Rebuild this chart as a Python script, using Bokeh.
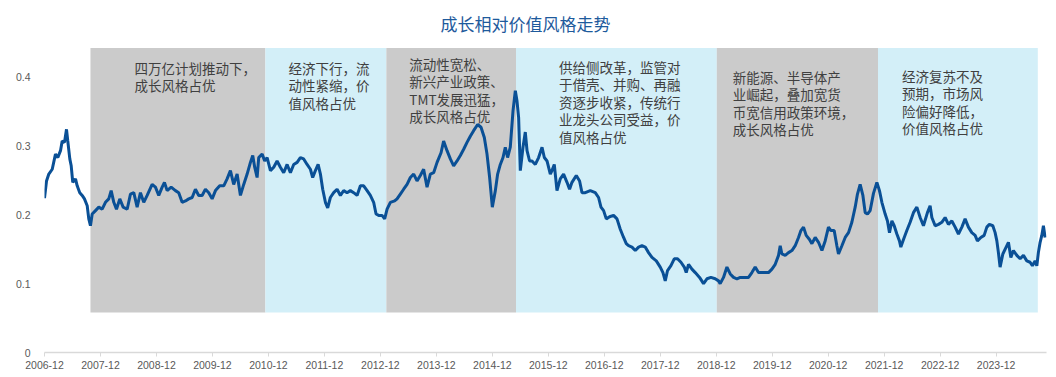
from bokeh.plotting import figure
from bokeh.models import FixedTicker, Range1d
from bokeh.core.properties import value
from bokeh.embed import file_html
from bokeh.resources import INLINE

# ---------------- data ----------------
# time in years since the "2006-12" tick
t = [0.000, 0.036, 0.077, 0.138, 0.196, 0.238, 0.286, 0.316, 0.357, 0.393, 0.416, 0.452, 0.477, 0.505,
     0.554, 0.584, 0.630, 0.673, 0.714, 0.763, 0.791, 0.821, 0.852, 0.911, 0.970, 1.030, 1.089, 1.148,
     1.191, 1.238, 1.286, 1.345, 1.405, 1.477, 1.536, 1.595, 1.655, 1.714, 1.773, 1.834, 1.923, 1.982,
     2.041, 2.102, 2.143, 2.191, 2.263, 2.339, 2.398, 2.459, 2.518, 2.577, 2.638, 2.696, 2.755, 2.816,
     2.875, 2.934, 2.995, 3.054, 3.130, 3.202, 3.262, 3.321, 3.380, 3.441, 3.500, 3.559, 3.620, 3.679,
     3.720, 3.755, 3.798, 3.827, 3.888, 3.934, 3.977, 4.036, 4.095, 4.155, 4.214, 4.273, 4.334, 4.393,
     4.452, 4.513, 4.571, 4.630, 4.691, 4.750, 4.791, 4.839, 4.888, 4.929, 4.970, 5.018, 5.059, 5.107,
     5.166, 5.227, 5.286, 5.345, 5.405, 5.464, 5.523, 5.584, 5.643, 5.702, 5.763, 5.821, 5.880, 5.923,
     5.970, 6.030, 6.077, 6.120, 6.179, 6.255, 6.298, 6.357, 6.416, 6.477, 6.536, 6.595, 6.655, 6.714,
     6.773, 6.834, 6.893, 6.952, 7.013, 7.084, 7.130, 7.191, 7.250, 7.309, 7.370, 7.429, 7.488, 7.548,
     7.607, 7.666, 7.738, 7.798, 7.857, 7.905, 7.952, 8.000, 8.054, 8.095, 8.143, 8.191, 8.232, 8.273,
     8.321, 8.370, 8.411, 8.441, 8.470, 8.500, 8.548, 8.589, 8.620, 8.666, 8.709, 8.768, 8.827, 8.888,
     8.929, 8.977, 9.036, 9.066, 9.107, 9.155, 9.214, 9.273, 9.334, 9.380, 9.423, 9.500, 9.559, 9.602,
     9.661, 9.750, 9.839, 9.898, 9.941, 9.988, 10.036, 10.095, 10.166, 10.227, 10.286, 10.345, 10.393,
     10.434, 10.495, 10.554, 10.613, 10.673, 10.732, 10.791, 10.852, 10.929, 11.000, 11.048, 11.089,
     11.130, 11.191, 11.250, 11.309, 11.370, 11.429, 11.464, 11.505, 11.566, 11.625, 11.702, 11.773,
     11.834, 11.905, 11.982, 12.041, 12.071, 12.130, 12.191, 12.250, 12.309, 12.370, 12.429, 12.488,
     12.577, 12.637, 12.696, 12.755, 12.845, 12.934, 12.995, 13.054, 13.113, 13.143, 13.173, 13.232,
     13.291, 13.352, 13.411, 13.470, 13.513, 13.559, 13.607, 13.666, 13.709, 13.768, 13.827, 13.888,
     13.946, 14.005, 14.048, 14.107, 14.155, 14.184, 14.245, 14.304, 14.363, 14.423, 14.482, 14.523,
     14.571, 14.620, 14.661, 14.702, 14.750, 14.809, 14.870, 14.916, 14.959, 15.018, 15.059, 15.095,
     15.138, 15.179, 15.227, 15.273, 15.298, 15.345, 15.405, 15.464, 15.523, 15.584, 15.643, 15.702,
     15.773, 15.821, 15.852, 15.911, 15.970, 16.030, 16.089, 16.148, 16.209, 16.268, 16.327, 16.388,
     16.446, 16.505, 16.566, 16.625, 16.666, 16.727, 16.786, 16.834, 16.880, 16.941, 16.982, 17.013,
     17.041, 17.071, 17.120, 17.179, 17.220, 17.263, 17.309, 17.370, 17.429, 17.488, 17.548, 17.607,
     17.648, 17.696, 17.727, 17.755, 17.786, 17.816, 17.845, 17.875]

ratio = [0.224, 0.249, 0.259, 0.266, 0.288, 0.283, 0.293, 0.307, 0.305, 0.324, 0.307, 0.281, 0.271, 0.247,
         0.252, 0.242, 0.232, 0.228, 0.223, 0.213, 0.194, 0.184, 0.201, 0.206, 0.211, 0.208, 0.218, 0.223,
         0.235, 0.218, 0.208, 0.223, 0.211, 0.208, 0.230, 0.232, 0.211, 0.232, 0.218, 0.228, 0.244, 0.240,
         0.228, 0.240, 0.247, 0.235, 0.240, 0.235, 0.232, 0.218, 0.220, 0.223, 0.225, 0.237, 0.228, 0.228,
         0.237, 0.232, 0.223, 0.235, 0.242, 0.242, 0.252, 0.264, 0.244, 0.259, 0.228, 0.244, 0.259, 0.276,
         0.286, 0.269, 0.254, 0.283, 0.288, 0.278, 0.283, 0.264, 0.269, 0.278, 0.269, 0.261, 0.273, 0.261,
         0.273, 0.276, 0.283, 0.281, 0.273, 0.266, 0.254, 0.264, 0.273, 0.259, 0.237, 0.218, 0.210, 0.225,
         0.232, 0.237, 0.228, 0.235, 0.232, 0.235, 0.232, 0.228, 0.242, 0.242, 0.235, 0.228, 0.218, 0.201,
         0.199, 0.199, 0.194, 0.208, 0.218, 0.220, 0.223, 0.230, 0.237, 0.244, 0.254, 0.259, 0.249, 0.257,
         0.266, 0.240, 0.259, 0.261, 0.276, 0.290, 0.307, 0.293, 0.281, 0.271, 0.278, 0.286, 0.295, 0.305,
         0.314, 0.322, 0.331, 0.327, 0.312, 0.288, 0.254, 0.211, 0.235, 0.259, 0.273, 0.283, 0.298, 0.283,
         0.298, 0.351, 0.380, 0.365, 0.341, 0.264, 0.298, 0.320, 0.293, 0.278, 0.278, 0.273, 0.283, 0.298,
         0.283, 0.278, 0.259, 0.264, 0.273, 0.235, 0.252, 0.259, 0.247, 0.237, 0.247, 0.257, 0.249, 0.232,
         0.232, 0.235, 0.232, 0.225, 0.211, 0.206, 0.194, 0.197, 0.199, 0.194, 0.179, 0.167, 0.158,
         0.155, 0.153, 0.148, 0.153, 0.155, 0.153, 0.145, 0.138, 0.133, 0.124, 0.116, 0.104,
         0.119, 0.126, 0.136, 0.136, 0.131, 0.124, 0.116, 0.128, 0.121, 0.116, 0.109, 0.100,
         0.107, 0.109, 0.107, 0.104, 0.100, 0.109, 0.124, 0.114, 0.109, 0.107, 0.109, 0.109,
         0.109, 0.116, 0.124, 0.116, 0.116, 0.116, 0.121, 0.128, 0.141, 0.155, 0.143, 0.141,
         0.145, 0.148, 0.155, 0.167, 0.177, 0.182, 0.170, 0.164, 0.158, 0.167, 0.160, 0.148,
         0.162, 0.182, 0.177, 0.177, 0.155, 0.143, 0.155, 0.167, 0.174, 0.189, 0.211, 0.230,
         0.244, 0.228, 0.203, 0.201, 0.206, 0.231, 0.247, 0.235, 0.218, 0.201, 0.191, 0.174,
         0.191, 0.184, 0.172, 0.162, 0.153, 0.164, 0.177, 0.189, 0.203, 0.211, 0.196, 0.184,
         0.203, 0.213, 0.196, 0.184, 0.186, 0.189, 0.196, 0.186, 0.191, 0.182, 0.172, 0.182,
         0.194, 0.182, 0.174, 0.170, 0.162, 0.167, 0.170, 0.182, 0.186, 0.184, 0.174, 0.162,
         0.145, 0.124, 0.143, 0.153, 0.160, 0.138, 0.148, 0.141, 0.136, 0.141, 0.133, 0.131,
         0.126, 0.133, 0.126, 0.145, 0.160, 0.170, 0.184, 0.167]

tick_labels = ["2006-12", "2007-12", "2008-12", "2009-12", "2010-12", "2011-12", "2012-12",
               "2013-12", "2014-12", "2015-12", "2016-12", "2017-12", "2018-12", "2019-12",
               "2020-12", "2021-12", "2022-12", "2023-12"]

period_start = [0.821, 3.946, 6.107, 8.423, 12.010, 14.890]
period_end = [3.946, 6.107, 8.423, 12.010, 14.890, 17.745]
period_style = ["growth", "value", "growth", "value", "growth", "value"]
period_text = [
    "四万亿计划推动下，\n成长风格占优",
    "经济下行，流\n动性紧缩，价\n值风格占优",
    "流动性宽松、\n新兴产业政策、\nTMT发展迅猛，\n成长风格占优",
    "供给侧改革，监管对\n于借壳、并购、再融\n资逐步收紧，传统行\n业龙头公司受益，价\n值风格占优",
    "新能源、半导体产\n业崛起，叠加宽货\n币宽信用政策环境，\n成长风格占优",
    "经济复苏不及\n预期，市场风\n险偏好降低，\n价值风格占优",
]
band_bottom = 0.058
band_top = 0.442

# ---------------- layout / style ----------------
fill_map = {"growth": "#CBCBCB", "value": "#D3EFF8"}
text_dx = [44, 23, 23, 43, 16, 24]
text_dy = [10, 10, 6, 9, 19, 18]

p = figure(frame_width=1002, frame_height=310, output_backend="svg", toolbar_location=None,
           x_range=Range1d(0, 17.9), y_range=Range1d(0, 0.45),
           min_border_left=44, min_border_right=4, min_border_top=42, min_border_bottom=2,
           title="成长相对价值风格走势")
p.outline_line_color = None
p.background_fill_color = "white"
p.border_fill_color = "white"
p.xgrid.grid_line_color = None
p.ygrid.grid_line_color = None

p.title.text_font = "Noto Sans CJK SC"
p.title.text_font_size = "17px"
p.title.text_font_style = "normal"
p.title.text_color = "#1E5A9C"
p.title.align = "left"
p.title.offset = 396
p.title.standoff = 14

p.quad(left=period_start, right=period_end, bottom=[band_bottom] * 6, top=[band_top] * 6,
       fill_color=[fill_map[s] for s in period_style], line_color=None)

p.text(x=period_start, y=[band_top] * 6, text=period_text, x_offset=text_dx, y_offset=text_dy,
       text_font=value("Noto Sans CJK SC"), text_font_size="13.5px", text_color="#404040",
       text_align="left", text_baseline="top", text_line_height=0.87)

p.line(t, ratio, line_color="#0A5096", line_width=3)

p.xaxis.ticker = FixedTicker(ticks=list(range(len(tick_labels))))
p.xaxis.major_label_overrides = {i: s for i, s in enumerate(tick_labels)}
p.xaxis.axis_line_color = "#D9D9D9"
p.xaxis.axis_line_width = 1.5
p.xaxis.major_tick_line_color = "#D9D9D9"
p.xaxis.major_tick_in = 0
p.xaxis.major_tick_out = 4
p.xaxis.minor_tick_line_color = None
p.xaxis.major_label_standoff = 4
p.xaxis.major_label_text_font = "Liberation Sans"
p.xaxis.major_label_text_font_size = "10.5px"
p.xaxis.major_label_text_color = "#595959"

p.yaxis.ticker = FixedTicker(ticks=[0, 0.1, 0.2, 0.3, 0.4])
p.yaxis.major_label_overrides = {0: "0"}
p.yaxis.axis_line_color = None
p.yaxis.major_tick_line_color = None
p.yaxis.minor_tick_line_color = None
p.yaxis.major_label_standoff = 8
p.yaxis.major_label_text_font = "Liberation Sans"
p.yaxis.major_label_text_font_size = "10.5px"
p.yaxis.major_label_text_color = "#595959"

open("out.html", "w").write(file_html(p, INLINE))
